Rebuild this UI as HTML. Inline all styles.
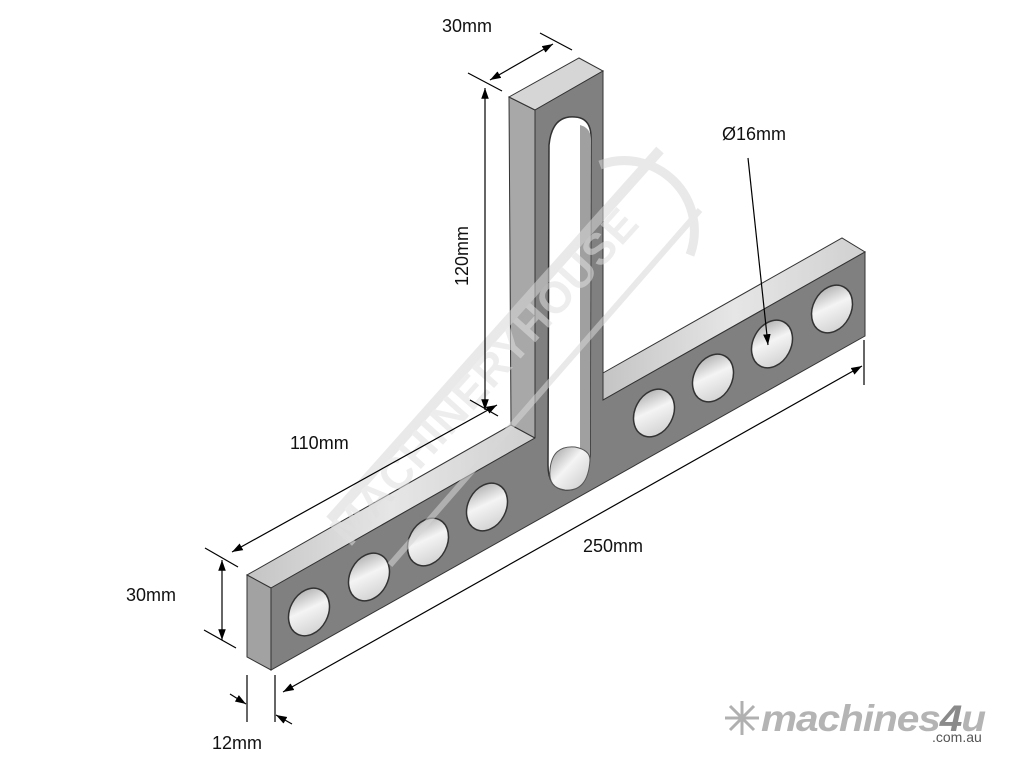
<!DOCTYPE html>
<html><head><meta charset="utf-8"><style>
html,body{margin:0;padding:0;background:#fff;}
svg{display:block;}
text{font-family:"Liberation Sans",sans-serif;}
</style></head><body>
<svg width="1024" height="768" viewBox="0 0 1024 768" xmlns="http://www.w3.org/2000/svg">
<defs>
<linearGradient id="hole" x1="0" y1="0" x2="1" y2="1">
<stop offset="0" stop-color="#9a9a9a"/><stop offset="0.45" stop-color="#f4f4f4"/><stop offset="1" stop-color="#c8c8c8"/>
</linearGradient>
<linearGradient id="top" x1="0" y1="0" x2="1" y2="0">
<stop offset="0" stop-color="#c4c4c4"/><stop offset="0.5" stop-color="#e6e6e6"/><stop offset="1" stop-color="#d0d0d0"/>
</linearGradient>
<marker id="ar" viewBox="0 0 10 10" refX="10" refY="5" markerWidth="9" markerHeight="9" orient="auto-start-reverse"><path d="M0,1.5 L10,5 L0,8.5 Z" fill="#000"/></marker>
</defs>

<!-- bar top faces -->
<polygon points="247,575 271,588 535,438 511,425" fill="url(#top)" stroke="#333" stroke-width="1"/>
<polygon points="603,400 865,252 842,238 603,373" fill="url(#top)" stroke="#333" stroke-width="1"/>
<polygon points="509,97 535,110 535,438 511,425" fill="#a8a8a8" stroke="#333" stroke-width="1"/>
<polygon points="509,97 535,110 603,71 579,58" fill="#d6d6d6" stroke="#333" stroke-width="1"/>
<polygon points="247,575 271,588 271,670 247,657" fill="#a2a2a2" stroke="#333" stroke-width="1"/>
<polygon points="271,588 535,438 535,110 603,71 603,400 865,252 865,336 271,670" fill="#808080" stroke="#333" stroke-width="1"/>
<!-- slot -->
<path d="M549,145 Q552,115 575,117 Q592,118 591,140 L590,455 Q588,492 565,490 Q548,488 548,465 Z" fill="#fff" stroke="#333" stroke-width="1.5"/>
<path d="M580,125 Q591,128 591,140 L590,455 Q588,470 580,472 Z" fill="#a0a0a0"/>
<path d="M550,470 Q552,445 575,447 Q590,450 590,460 Q588,492 565,490 Q548,488 550,470 Z" fill="url(#hole)" stroke="#555" stroke-width="1"/>
<g stroke="#333" stroke-width="1.5" fill="url(#hole)">
<ellipse cx="309" cy="612" rx="19" ry="25" transform="rotate(28 309 612)"/>
<ellipse cx="369" cy="577" rx="19" ry="25" transform="rotate(28 369 577)"/>
<ellipse cx="428" cy="542" rx="19" ry="25" transform="rotate(28 428 542)"/>
<ellipse cx="487" cy="507" rx="19" ry="25" transform="rotate(28 487 507)"/>
<ellipse cx="654" cy="413" rx="19" ry="25" transform="rotate(28 654 413)"/>
<ellipse cx="713" cy="378" rx="19" ry="25" transform="rotate(28 713 378)"/>
<ellipse cx="772" cy="344" rx="19" ry="25" transform="rotate(28 772 344)"/>
<ellipse cx="832" cy="309" rx="19" ry="25" transform="rotate(28 832 309)"/>
</g>

<!-- watermark (over the part) -->
<g opacity="0.55">
<path d="M330,520 L660,150" stroke="#d8d8d8" stroke-width="10" fill="none"/>
<path d="M390,565 L700,210" stroke="#d8d8d8" stroke-width="6" fill="none"/>
<path d="M600,165 A70,70 0 0 1 690,255" stroke="#d8d8d8" stroke-width="9" fill="none"/>
<text x="0" y="0" transform="translate(350,548) rotate(-48)" font-size="44" font-weight="bold" fill="#e0e0e0" letter-spacing="1">MACHINERYHOUSE</text>
</g>

<g stroke="#000" stroke-width="1.2" fill="none">
<line x1="468" y1="73" x2="502" y2="91"/>
<line x1="540" y1="33" x2="572" y2="50"/>
<line x1="490" y1="80" x2="553" y2="44" marker-start="url(#ar)" marker-end="url(#ar)"/>
<line x1="485" y1="88" x2="485" y2="410" marker-start="url(#ar)" marker-end="url(#ar)"/>
<line x1="470" y1="400" x2="498" y2="416"/>
<line x1="232" y1="552" x2="497" y2="405" marker-start="url(#ar)" marker-end="url(#ar)"/>
<line x1="205" y1="548" x2="238" y2="567"/>
<line x1="222" y1="560" x2="222" y2="640" marker-start="url(#ar)" marker-end="url(#ar)"/>
<line x1="204" y1="630" x2="236" y2="648"/>
<line x1="283" y1="692" x2="862" y2="366" marker-start="url(#ar)" marker-end="url(#ar)"/>
<line x1="864" y1="340" x2="864" y2="385"/>
<line x1="275" y1="675" x2="275" y2="722"/>
<line x1="247" y1="675" x2="247" y2="722"/>
<line x1="230" y1="694" x2="246" y2="704" marker-end="url(#ar)"/>
<line x1="292" y1="724" x2="276" y2="715" marker-end="url(#ar)"/>
<line x1="748" y1="158" x2="768" y2="345" marker-end="url(#ar)"/>
</g>
<g font-size="18" fill="#111">
<text x="442" y="32">30mm</text>
<text x="0" y="0" transform="translate(468,286) rotate(-90)">120mm</text>
<text x="290" y="449">110mm</text>
<text x="126" y="601">30mm</text>
<text x="583" y="552">250mm</text>
<text x="212" y="749">12mm</text>
<text x="722" y="140">Ø16mm</text>
</g>

<g stroke="#b0b0b0" stroke-width="3">
<line x1="725" y1="718" x2="759" y2="718"/>
<line x1="742" y1="701" x2="742" y2="735"/>
<line x1="730" y1="706" x2="754" y2="730"/>
<line x1="754" y1="706" x2="730" y2="730"/>
</g>
<text x="761" y="731" font-size="37" font-weight="bold" font-style="italic" fill="#b4b4b4" letter-spacing="-1" textLength="224" lengthAdjust="spacingAndGlyphs">machines<tspan fill="#8a8a8a">4</tspan>u</text>
<text x="932" y="742" font-size="14" fill="#555">.com.au</text>
</svg>
</body></html>
